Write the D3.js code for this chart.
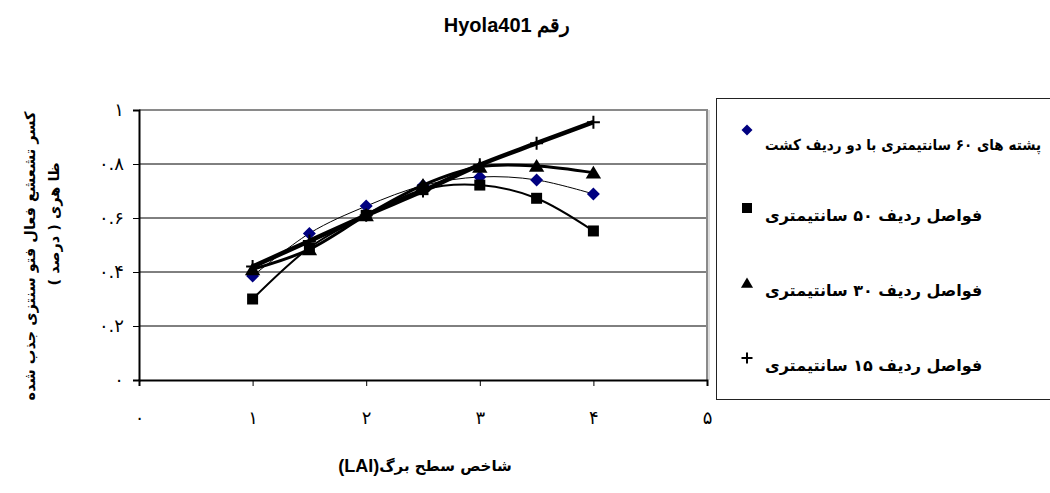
<!DOCTYPE html>
<html>
<head>
<meta charset="utf-8">
<script src="https://cdn.jsdelivr.net/npm/d3@7"></script>
<style>
  html, body { margin: 0; padding: 0; background: #fff; }
  svg { display: block; }
</style>
</head>
<body>
<svg id="chart" width="1050" height="493"></svg>
<script>
// Leaf area index values at which light interception was measured
const lai = [1, 1.5, 2, 2.5, 3, 3.5, 4];

// Fraction of absorbed photosynthetically active radiation, per planting pattern
const bed60 = [0.385, 0.543, 0.644, 0.72, 0.752, 0.741, 0.689];
const row50 = [0.30, 0.49, 0.61, 0.705, 0.722, 0.673, 0.552];
const row30 = [0.41, 0.484, 0.61, 0.722, 0.79, 0.793, 0.768];
const row15 = [0.42, 0.515, 0.61, 0.70, 0.797, 0.877, 0.955];

const seriesNames = [
  "پشته های ۶۰ سانتیمتری با دو ردیف کشت",
  "فواصل ردیف ۵۰ سانتیمتری",
  "فواصل ردیف ۳۰ سانتیمتری",
  "فواصل ردیف ۱۵ سانتیمتری"
];

const xTicks = [0, 1, 2, 3, 4, 5];
const xTickLabels = ["۰", "۱", "۲", "۳", "۴", "۵"];
const yTicks = [0, 0.2, 0.4, 0.6, 0.8, 1];
const yTickLabels = ["۰", "۰.۲", "۰.۴", "۰.۶", "۰.۸", "۱"];

const titleText = "رقم Hyola401";
const xTitleText = "شاخص سطح برگ";
const xTitleUnit = "(LAI)";
const yTitleLines = ["کسر تشعشع فعال فتو سنتزی جذب شده", "ظا هری ( درصد )"];

const persianFont = "'DejaVu Sans', sans-serif";
const latinFont = "'Liberation Sans', Arial, sans-serif";

const svg = d3.select("#chart");

const plot = { left: 139, right: 707, top: 110, bottom: 380 };
const x = d3.scaleLinear().domain([0, 5]).range([plot.left, plot.right]);
const y = d3.scaleLinear().domain([0, 1]).range([plot.bottom, plot.top]);

// marker shapes
const shapes = {
  diamond: s => `M0,${-s}L${s},0L0,${s}L${-s},0Z`,
  square: s => `M${-s},${-s}H${s}V${s}H${-s}Z`,
  triangle: s => `M0,${-s}L${s * 1.1},${s * 0.85}L${-s * 1.1},${s * 0.85}Z`,
  plus: s => `M${-s},0H${s}M0,${-s}V${s}`
};

const series = [
  { name: seriesNames[0], values: bed60, shape: "diamond", size: 6.5, fill: "#000080", line: 1 },
  { name: seriesNames[1], values: row50, shape: "square", size: 5.5, fill: "#000", line: 2 },
  { name: seriesNames[2], values: row30, shape: "triangle", size: 7, fill: "#000", line: 3 },
  { name: seriesNames[3], values: row15, shape: "plus", size: 6.5, fill: "none", line: 4.5 }
];

// gridlines
svg.append("g")
  .selectAll("line")
  .data(yTicks.filter(v => v > 0 && v < 1))
  .join("line")
  .attr("x1", plot.left).attr("x2", plot.right)
  .attr("y1", d => y(d)).attr("y2", d => y(d))
  .attr("stroke", "#000").attr("stroke-width", 1);

// plot area frame: grey top and right edges
svg.append("line")
  .attr("x1", plot.left).attr("x2", plot.right + 1)
  .attr("y1", y(1)).attr("y2", y(1))
  .attr("stroke", "#8a8a8a").attr("stroke-width", 2);
svg.append("line")
  .attr("x1", plot.right).attr("x2", plot.right)
  .attr("y1", y(1)).attr("y2", plot.bottom)
  .attr("stroke", "#8a8a8a").attr("stroke-width", 2);
svg.append("line")
  .attr("x1", plot.right + 2).attr("x2", plot.right + 2)
  .attr("y1", y(1)).attr("y2", plot.bottom)
  .attr("stroke", "#d0d0d0").attr("stroke-width", 1.5);

// axes
const xAxis = d3.axisBottom(x)
  .tickValues(xTicks)
  .tickSize(6)
  .tickPadding(25)
  .tickFormat((d, i) => xTickLabels[i]);
const yAxis = d3.axisLeft(y)
  .tickValues(yTicks)
  .tickSize(6)
  .tickPadding(9)
  .tickFormat((d, i) => yTickLabels[i]);

const gx = svg.append("g").attr("transform", `translate(0,${plot.bottom})`).call(xAxis);
const gy = svg.append("g").attr("transform", `translate(${plot.left},0)`).call(yAxis);
[gx, gy].forEach(g => {
  g.select(".domain").attr("stroke", "#000").attr("stroke-width", 2);
  g.selectAll(".tick line").attr("stroke", "#000").attr("stroke-width", 1);
  g.selectAll(".tick text")
    .attr("fill", "#000")
    .style("font-family", persianFont)
    .style("font-size", "18px");
});

// series lines and markers
const lineGen = d3.line()
  .x((d, i) => x(lai[i]))
  .y(d => y(d))
  .curve(d3.curveCardinal.tension(0));

series.forEach(s => {
  const g = svg.append("g");
  g.append("path")
    .datum(s.values)
    .attr("d", lineGen)
    .attr("fill", "none")
    .attr("stroke", "#000")
    .attr("stroke-width", s.line)
    .attr("stroke-linejoin", "round");
  g.selectAll("path.m")
    .data(s.values)
    .join("path")
    .attr("class", "m")
    .attr("transform", (d, i) => `translate(${x(lai[i])},${y(d)})`)
    .attr("d", shapes[s.shape](s.size))
    .attr("fill", s.fill)
    .attr("stroke", s.shape === "plus" ? "#000" : "none")
    .attr("stroke-width", 2);
});

// legend
const legend = svg.append("g");
legend.append("rect")
  .attr("x", 716.5).attr("y", 98.5)
  .attr("width", 400).attr("height", 301)
  .attr("fill", "#fff")
  .attr("stroke", "#222").attr("stroke-width", 1);

const legendRows = [
  { markerY: 130, textY: 145, fit: 276 },
  { markerY: 208, textY: 215 },
  { markerY: 283, textY: 290 },
  { markerY: 358, textY: 365 }
];

series.forEach((s, i) => {
  const r = legendRows[i];
  legend.append("path")
    .attr("transform", `translate(747,${r.markerY})`)
    .attr("d", shapes[s.shape](s.shape === "square" ? 5 : 5.5))
    .attr("fill", s.fill)
    .attr("stroke", s.shape === "plus" ? "#000" : "none")
    .attr("stroke-width", 2);
  const t = legend.append("text")
    .attr("x", 765).attr("y", r.textY)
    .attr("direction", "rtl")
    .attr("text-anchor", "end")
    .attr("dominant-baseline", "central")
    .style("font-family", persianFont)
    .style("font-weight", "bold")
    .style("font-size", "16px")
    .text(s.name);
  // the long first entry is squeezed to stay inside the frame
  if (r.fit) {
    t.style("font-size", "15px")
      .attr("textLength", r.fit)
      .attr("lengthAdjust", "spacingAndGlyphs");
  }
});

// chart title
svg.append("text")
  .attr("x", 507).attr("y", 25)
  .attr("direction", "rtl")
  .attr("text-anchor", "middle")
  .attr("dominant-baseline", "central")
  .style("font-family", latinFont)
  .style("font-weight", "bold")
  .style("font-size", "20px")
  .text(titleText);

// x axis title
const xt = svg.append("text")
  .attr("x", 425).attr("y", 466)
  .attr("direction", "rtl")
  .attr("text-anchor", "middle")
  .attr("dominant-baseline", "central")
  .style("font-weight", "bold");
xt.append("tspan").style("font-family", persianFont).style("font-size", "15px").text(xTitleText);
xt.append("tspan").style("font-family", latinFont).style("font-size", "18px").text(xTitleUnit);

// y axis title, two rotated lines
const yTitlePos = [{ x: 30, y: 256 }, { x: 54, y: 224 }];
yTitleLines.forEach((t, i) => {
  svg.append("text")
    .attr("transform", `translate(${yTitlePos[i].x},${yTitlePos[i].y}) rotate(-90)`)
    .attr("direction", "rtl")
    .attr("text-anchor", "middle")
    .attr("dominant-baseline", "central")
    .style("font-family", persianFont)
    .style("font-weight", "bold")
    .style("font-size", "14.5px")
    .text(t);
});
</script>
</body>
</html>
